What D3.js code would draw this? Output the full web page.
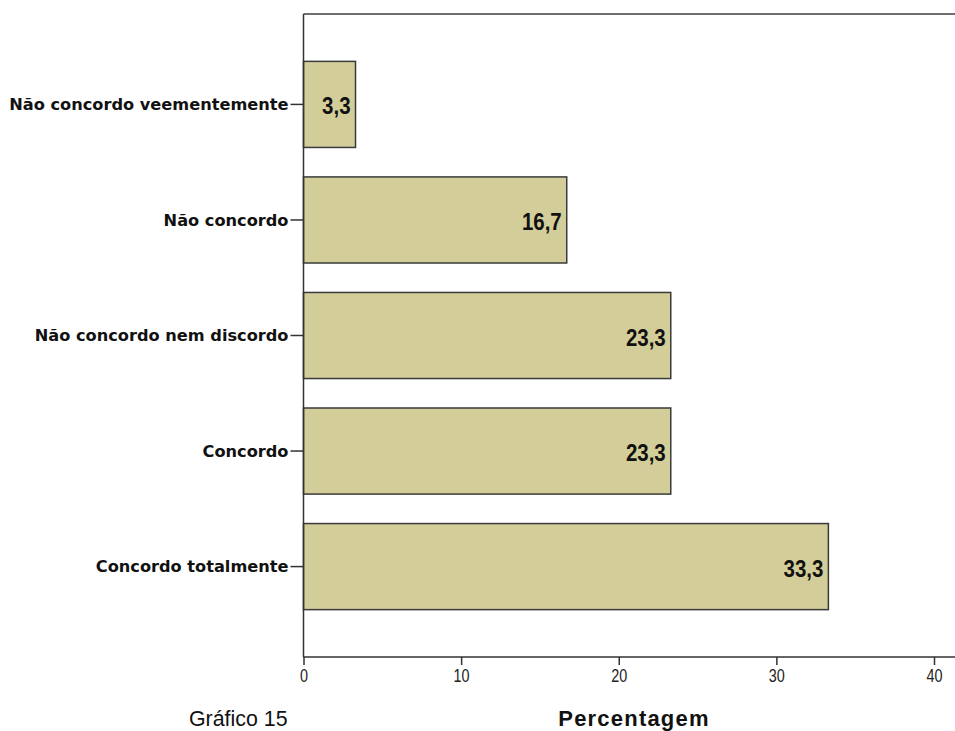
<!DOCTYPE html>
<html>
<head>
<meta charset="utf-8">
<script src="https://cdn.jsdelivr.net/npm/d3@7"></script>
<style>
    body { margin: 0; background: #fff; }
    .cat_lbl { font-family: "DejaVu Sans", Verdana, sans-serif; font-weight: bold; font-size: 16.2px; fill: #111; }
    .bar_txt { font-family: "Liberation Sans", Arial, sans-serif; font-weight: bold; font-size: 23px; fill: #111; }
    .xticks text { font-family: "Liberation Sans", Arial, sans-serif; font-size: 18px; fill: #222; }
    .xlabel { font-family: "Liberation Sans", Arial, sans-serif; font-weight: bold; font-size: 22px; letter-spacing: 1.2px; fill: #111; }
    .caption { font-family: "Liberation Sans", Arial, sans-serif; font-size: 23px; fill: #111; }
</style>
</head>
<body>
<div id="barChart"></div>
<script>
// chart data
const categories = ["Não concordo veementemente", "Não concordo", "Não concordo nem discordo", "Concordo", "Concordo totalmente"];
const values = [3.3, 16.7, 23.3, 23.3, 33.3];
const valueLabels = ["3,3", "16,7", "23,3", "23,3", "33,3"];
const xTicks = [0, 10, 20, 30, 40];

const W = 955, H = 731;
const plotLeft = 303.5, plotTop = 14, plotBottom = 657, axisEnd = 955;
const narrow = 0.8; // horizontal squeeze to fake a condensed face

var data = categories.map((c, i) => ({ cat: c, value: values[i], label: valueLabels[i] }));

var svg = d3.select("#barChart").append("svg")
    .attr("width", W)
    .attr("height", H);

var x = d3.scaleLinear()
    .domain([0, 40])
    .range([plotLeft, 934]);

var y = d3.scaleBand()
    .domain(categories)
    .range([plotTop, plotBottom])
    .paddingInner(0.255)
    .paddingOuter(0.41);

// frame: top line
svg.append("line")
    .attr("x1", plotLeft).attr("x2", axisEnd)
    .attr("y1", plotTop).attr("y2", plotTop)
    .attr("stroke", "#6e6e6e")
    .attr("stroke-width", 2);

// bars
svg.selectAll(".bar").data(data).enter().append("rect")
    .attr("class", "bar")
    .attr("x", x(0))
    .attr("y", d => y(d.cat))
    .attr("width", d => x(d.value) - x(0))
    .attr("height", y.bandwidth())
    .attr("fill", "#d3ce99")
    .attr("stroke", "#3a3a3a")
    .attr("stroke-width", 1.5);

// value labels inside the bars
svg.selectAll(".bar_txt").data(data).enter().append("text")
    .attr("class", "bar_txt")
    .attr("transform", d => "translate(" + (x(d.value) - 5) + "," + (y(d.cat) + y.bandwidth() / 2 + 10) + ") scale(0.89,1)")
    .attr("text-anchor", "end")
    .text(d => d.label);

// y axis
var yAxis = svg.append("g")
    .attr("transform", "translate(" + plotLeft + ",0)")
    .call(d3.axisLeft(y).tickSize(13).tickPadding(2).tickSizeOuter(0));
yAxis.select(".domain").attr("stroke", "#333").attr("stroke-width", 1.5)
    .attr("d", "M0," + plotTop + "V" + plotBottom);
yAxis.selectAll(".tick line").attr("stroke", "#333").attr("stroke-width", 1.5);
yAxis.selectAll(".tick text").attr("class", "cat_lbl").attr("dy", "0.36em");

// x axis
var xAxis = svg.append("g")
    .attr("class", "xticks")
    .attr("transform", "translate(0," + plotBottom + ")")
    .call(d3.axisBottom(x).tickValues(xTicks).tickSize(8).tickPadding(4).tickSizeOuter(0));
xAxis.select(".domain").attr("stroke", "#333").attr("stroke-width", 1.5)
    .attr("d", "M" + plotLeft + ",0H" + axisEnd);
xAxis.selectAll(".tick line").attr("stroke", "#333").attr("stroke-width", 1.5);
xAxis.selectAll(".tick text")
    .attr("transform", "scale(" + narrow + ",1)");

// x label
svg.append("text")
    .attr("class", "xlabel")
    .attr("x", 634)
    .attr("y", 726)
    .attr("text-anchor", "middle")
    .text("Percentagem");

// caption
svg.append("text")
    .attr("class", "caption")
    .attr("transform", "translate(189,726) scale(0.93,1)")
    .text("Gráfico 15");
</script>
</body>
</html>
